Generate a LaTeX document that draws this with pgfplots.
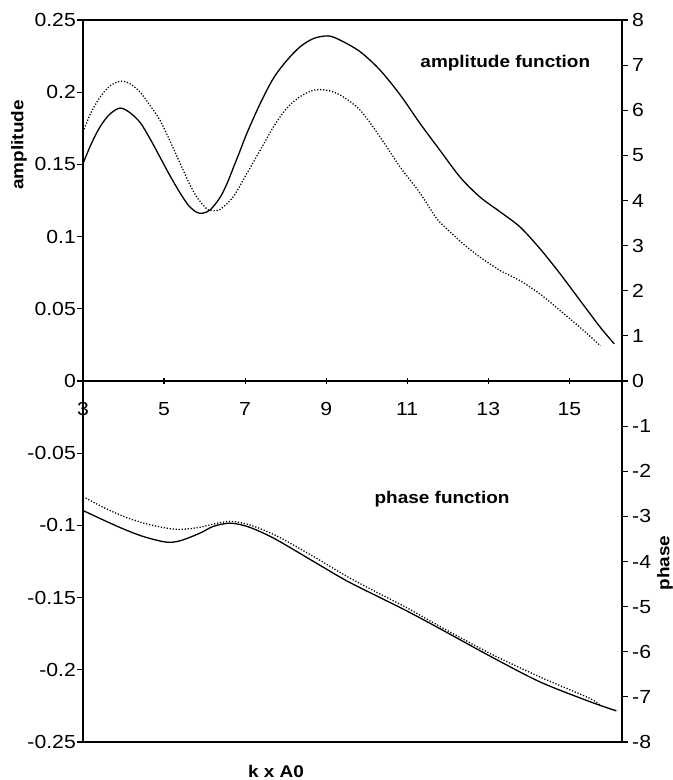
\documentclass[border=0pt]{standalone}
\usepackage{fontspec}
\setmainfont[FakeStretch=1.12]{Liberation Sans}
\usepackage{pgfplots}
\pgfplotsset{compat=1.18}
\begin{document}
\fontsize{17}{20}\selectfont
\begin{tikzpicture}
\path[use as bounding box] (-83bp,-38bp) rectangle (590bp,742bp);
\begin{axis}[
  at={(0,0)}, anchor=south west,
  scale only axis, width=539bp, height=722bp,
  xmin=3, xmax=16.3, ymin=-0.25, ymax=0.25,
  axis x line*=middle, axis y line*=left,
  hide obscured x ticks=false, hide obscured y ticks=false,
  axis line style={line width=1.6bp},
  xtick={3,5,7,9,11,13,15},
  xticklabels={3,5,7,9,11,13,15},
  ytick={-0.25,-0.2,-0.15,-0.1,-0.05,0,0.05,0.1,0.15,0.2,0.25},
  yticklabels={-0.25,-0.2,-0.15,-0.1,-0.05,0,0.05,0.1,0.15,0.2,0.25},
  x tick style={line width=1.2bp, black},
  y tick style={line width=1.2bp, black},
  major tick length=6bp,
  xtick align=center, ytick align=outside,
  tick label style={font=\fontsize{19}{22}\selectfont},
  y tick label style={inner sep=1bp},
  x tick label style={inner sep=1bp, yshift=-17bp},
  clip=false,
]
\draw[line width=1.6bp] (rel axis cs:0,0) rectangle (rel axis cs:1,1);
\addplot[black, line width=1.3bp, smooth] coordinates {
(3.00,0.1505) (3.20,0.164) (3.42,0.176) (3.65,0.1845) (3.91,0.189) (4.15,0.186)
(4.41,0.179) (4.65,0.168) (4.90,0.155) (5.15,0.142) (5.40,0.130) (5.62,0.121)
(5.81,0.1168) (5.95,0.1162) (6.14,0.1185) (6.38,0.127) (6.55,0.1365) (6.70,0.147)
(6.87,0.159) (7.04,0.1713) (7.37,0.192) (7.70,0.2097) (8.03,0.222) (8.36,0.2315) (8.69,0.2372)
(9.05,0.239) (9.35,0.236) (9.84,0.228) (10.33,0.2153) (10.83,0.198) (11.32,0.1782)
(11.81,0.1597) (12.31,0.141) (12.80,0.1273) (13.30,0.117) (13.79,0.1065) (14.28,0.0915)
(14.78,0.074) (15.27,0.0556) (15.77,0.037) (16.11,0.0257)
};
\addplot[black, line width=1.3bp, dash pattern=on 1.2bp off 1.8bp, smooth] coordinates {
(3.00,0.1725) (3.20,0.186) (3.42,0.1965) (3.65,0.204) (3.91,0.2076) (4.15,0.206)
(4.41,0.200) (4.65,0.191) (4.90,0.1806) (5.15,0.166) (5.40,0.1505) (5.62,0.137)
(5.81,0.1273) (6.06,0.119) (6.20,0.118) (6.38,0.1188) (6.70,0.1273) (7.04,0.1435)
(7.37,0.1597) (7.70,0.176) (8.03,0.189) (8.36,0.197) (8.69,0.2014) (9.00,0.2014)
(9.35,0.198) (9.84,0.1875) (10.33,0.169) (10.83,0.148) (11.32,0.130) (11.73,0.1124)
(12.05,0.1035) (12.40,0.0945) (12.80,0.0857) (13.30,0.0764) (13.79,0.0694) (14.28,0.0602)
(14.78,0.0486) (15.27,0.037) (15.77,0.0243)
};
\node[font=\bfseries] at (axis cs:13.42,0.220) {amplitude function};
\node[font=\bfseries] at (axis cs:11.86,-0.082) {phase function};
\node[font=\bfseries, rotate=90] at ([xshift=-64bp]rel axis cs:0,0.827) {amplitude};
\node[font=\bfseries, rotate=90] at ([xshift=43bp]rel axis cs:1,0.248) {phase};
\node[font=\bfseries, inner sep=0pt] at ([yshift=-29bp]rel axis cs:0.358,0) {k x A0};
\end{axis}
\begin{axis}[
  at={(0,0)}, anchor=south west,
  scale only axis, width=539bp, height=722bp,
  xmin=3, xmax=16.3, ymin=-8, ymax=8,
  axis x line=none, axis y line*=right,
  axis line style={line width=1.6bp},
  ytick={-8,-7,-6,-5,-4,-3,-2,-1,0,1,2,3,4,5,6,7,8},
  yticklabels={-8,-7,-6,-5,-4,-3,-2,-1,0,1,2,3,4,5,6,7,8},
  y tick style={line width=1.2bp, black},
  major tick length=6bp,
  ytick align=outside,
  tick label style={font=\fontsize{19}{22}\selectfont},
  y tick label style={inner sep=1bp, xshift=3bp},
  clip=false,
]
\addplot[black, line width=1.3bp, smooth] coordinates {
(3.00,-2.87) (3.5,-3.08) (4.0,-3.28) (4.5,-3.45) (5.05,-3.57) (5.4,-3.54)
(5.89,-3.37) (6.22,-3.22) (6.63,-3.15) (7.04,-3.22) (7.45,-3.37) (7.86,-3.56)
(8.69,-4.0) (9.51,-4.43) (10.33,-4.80) (11.0,-5.10) (11.81,-5.49)
(13.05,-6.1) (14.28,-6.67) (15.52,-7.11) (16.16,-7.31)
};
\addplot[black, line width=1.3bp, dash pattern=on 1.2bp off 1.8bp, smooth] coordinates {
(3.00,-2.56) (3.5,-2.8) (4.0,-3.0) (4.5,-3.15) (5.0,-3.25) (5.4,-3.29)
(5.89,-3.24) (6.22,-3.17) (6.63,-3.11) (7.04,-3.17) (7.45,-3.30) (7.86,-3.47)
(8.69,-3.89) (9.51,-4.33) (10.33,-4.72) (11.0,-5.03) (11.81,-5.44) (13.05,-6.04)
(14.28,-6.56) (15.52,-7.04) (15.77,-7.2)
};
\end{axis}
\end{tikzpicture}
\end{document}
